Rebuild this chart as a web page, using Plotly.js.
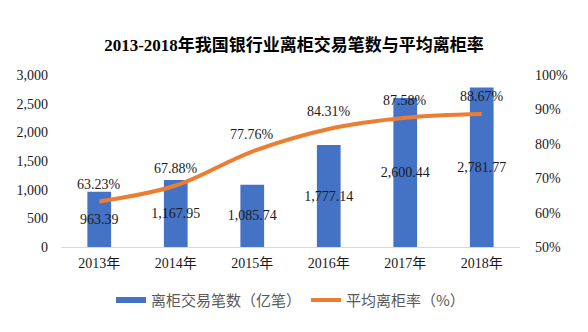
<!DOCTYPE html>
<html>
<head>
<meta charset="utf-8">
<script src="https://cdn.plot.ly/plotly-3.0.1.min.js"></script>
<style>html,body{margin:0;padding:0;background:#fff;}#chart{width:588px;height:332px;}</style>
</head>
<body>
<div id="chart"></div>
<script>
const years = ["2013年", "2014年", "2015年", "2016年", "2017年", "2018年"];
const transactions = [963.39, 1167.95, 1085.74, 1777.14, 2600.44, 2781.77];
const offCounterRate = [0.6323, 0.6788, 0.7776, 0.8431, 0.8758, 0.8867];
const barName = "离柜交易笔数（亿笔）";
const lineName = "平均离柜率（%）";

const serif = "'Liberation Serif', 'Times New Roman', 'Noto Sans CJK SC', serif";

const traces = [
  {
    type: "bar",
    x: years,
    y: transactions,
    name: barName,
    showlegend: false,
    marker: {color: "#4472C4"},
    width: 0.31,
    text: transactions.map(v => v.toLocaleString("en-US", {minimumFractionDigits: 2, maximumFractionDigits: 2})),
    textposition: "inside",
    insidetextanchor: "middle",
    textangle: 0,
    constraintext: "none",
    textfont: {family: serif, size: 14, color: "#1a1a1a"},
    cliponaxis: false,
    hoverinfo: "skip"
  },
  {
    type: "scatter",
    mode: "lines",
    x: [null],
    y: [null],
    name: barName,
    line: {color: "#4472C4", width: 6},
    hoverinfo: "skip"
  },
  {
    type: "scatter",
    mode: "lines",
    x: years,
    y: offCounterRate,
    yaxis: "y2",
    name: lineName,
    line: {color: "#ED7D31", width: 4, shape: "spline", smoothing: 1},
    cliponaxis: false,
    hoverinfo: "skip"
  }
];

const rateAnnotations = years.map((yr, i) => ({
  x: yr,
  y: offCounterRate[i],
  xref: "x",
  yref: "y2",
  text: (offCounterRate[i] * 100).toFixed(2) + "%",
  showarrow: false,
  yanchor: "middle",
  xanchor: "center",
  yshift: 17,
  font: {family: serif, size: 14, color: "#1a1a1a"}
}));

const layout = {
  width: 588,
  height: 332,
  margin: {l: 61, r: 68, t: 75, b: 85},
  paper_bgcolor: "#ffffff",
  plot_bgcolor: "#ffffff",
  title: {
    text: "<b>2013-2018年我国银行业离柜交易笔数与平均离柜率</b>",
    font: {family: serif, size: 17, color: "#000000"},
    x: 0.5, xanchor: "center",
    y: 0.865, yanchor: "middle"
  },
  annotations: rateAnnotations,
  xaxis: {
    type: "category",
    showgrid: false,
    showline: true,
    linecolor: "#D9D9D9",
    linewidth: 1,
    ticks: "",
    ticklabelstandoff: 3,
    tickfont: {family: serif, size: 14, color: "#1a1a1a"},
    zeroline: false
  },
  yaxis: {
    range: [0, 3000],
    dtick: 500,
    tickformat: ",",
    showgrid: false,
    zeroline: false,
    showline: false,
    ticks: "",
    ticklabelstandoff: 12,
    tickfont: {family: serif, size: 14, color: "#1a1a1a"}
  },
  yaxis2: {
    overlaying: "y",
    side: "right",
    range: [0.5, 1.0],
    dtick: 0.1,
    tickformat: ".0%",
    showgrid: false,
    zeroline: false,
    showline: false,
    ticks: "",
    ticklabelstandoff: 14,
    tickfont: {family: serif, size: 14, color: "#1a1a1a"}
  },
  legend: {
    orientation: "h",
    x: 0.5, xanchor: "center",
    y: -0.31, yanchor: "middle",
    font: {family: "'Noto Sans CJK SC', sans-serif", size: 15, color: "#595959"},
    itemwidth: 30,
    tracegroupgap: 0
  },
  showlegend: true
};

Plotly.newPlot("chart", traces, layout, {displayModeBar: false, staticPlot: true});
</script>
</body>
</html>
